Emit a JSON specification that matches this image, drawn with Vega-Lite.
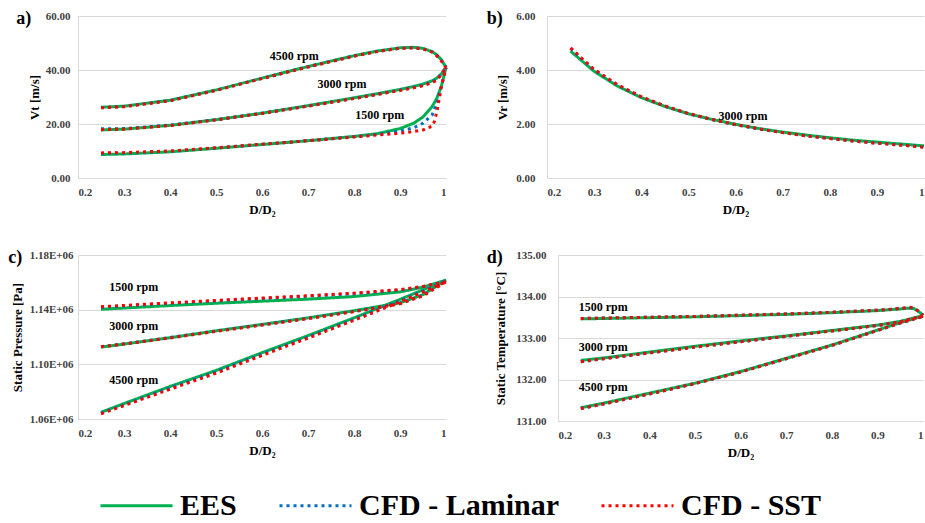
{
"$schema":"https://vega.github.io/schema/vega-lite/v6.json",
"background":"white",
"padding":{"left":8,"top":10,"right":0,"bottom":0},
"config":{
 "font":"Liberation Serif",
 "view":{"stroke":null},
 "axis":{"labelFont":"Liberation Serif","labelFontWeight":"bold","labelFontSize":11,"labelColor":"#404040","labelOverlap":false,"titleFont":"Liberation Serif","titleFontSize":13,"titleFontWeight":"bold","titleColor":"#000000","gridColor":"#d9d9d9","domainColor":"#d9d9d9","ticks":false},
 "axisX":{"grid":false,"labelPadding":8,"titlePadding":6,"format":"~g"},
 "title":{"font":"Liberation Serif","fontSize":18,"fontWeight":"bold","color":"#000000","anchor":"start","frame":"bounds","baseline":"top","offset":-18},
 "text":{"font":"Liberation Serif","fontWeight":"bold","fontSize":12,"color":"#000000"},
 "line":{"strokeCap":"butt","strokeWidth":3}
},
"datasets":{
"labels":[
{"p":"a","x":0.67,"y":45.2,"t":"4500 rpm"},{"p":"a","x":0.774,"y":34.9,"t":"3000 rpm"},{"p":"a","x":0.856,"y":23.3,"t":"1500 rpm"},
{"p":"b","x":0.616,"y":2.29,"t":"3000 rpm"},
{"p":"c","x":0.321,"y":1156300,"t":"1500 rpm"},{"p":"c","x":0.321,"y":1128100,"t":"3000 rpm"},{"p":"c","x":0.321,"y":1088200,"t":"4500 rpm"},
{"p":"d","x":0.299,"y":133.74,"t":"1500 rpm"},{"p":"d","x":0.299,"y":132.78,"t":"3000 rpm"},{"p":"d","x":0.299,"y":131.81,"t":"4500 rpm"}
],
"main":[
{"p":"a","r":"4500","s":"EES","x":0.25,"y":26.2},{"p":"a","r":"4500","s":"EES","x":0.3,"y":26.6},{"p":"a","r":"4500","s":"EES","x":0.4,"y":28.8},{"p":"a","r":"4500","s":"EES","x":0.5,"y":32.6},{"p":"a","r":"4500","s":"EES","x":0.6,"y":37.0},{"p":"a","r":"4500","s":"EES","x":0.7,"y":41.3},{"p":"a","r":"4500","s":"EES","x":0.8,"y":45.3},{"p":"a","r":"4500","s":"EES","x":0.85,"y":47.0},{"p":"a","r":"4500","s":"EES","x":0.9,"y":48.2},{"p":"a","r":"4500","s":"EES","x":0.93,"y":48.4},{"p":"a","r":"4500","s":"EES","x":0.95,"y":48.0},{"p":"a","r":"4500","s":"EES","x":0.97,"y":46.8},{"p":"a","r":"4500","s":"EES","x":0.98,"y":45.6},{"p":"a","r":"4500","s":"EES","x":0.99,"y":43.8},{"p":"a","r":"4500","s":"EES","x":1.0,"y":41.0},
{"p":"a","r":"3000","s":"EES","x":0.25,"y":17.8},{"p":"a","r":"3000","s":"EES","x":0.3,"y":18.1},{"p":"a","r":"3000","s":"EES","x":0.4,"y":19.5},{"p":"a","r":"3000","s":"EES","x":0.5,"y":21.6},{"p":"a","r":"3000","s":"EES","x":0.6,"y":24.0},{"p":"a","r":"3000","s":"EES","x":0.7,"y":26.8},{"p":"a","r":"3000","s":"EES","x":0.8,"y":29.7},{"p":"a","r":"3000","s":"EES","x":0.85,"y":31.2},{"p":"a","r":"3000","s":"EES","x":0.9,"y":32.8},{"p":"a","r":"3000","s":"EES","x":0.93,"y":33.9},{"p":"a","r":"3000","s":"EES","x":0.95,"y":34.8},{"p":"a","r":"3000","s":"EES","x":0.97,"y":36.0},{"p":"a","r":"3000","s":"EES","x":0.98,"y":37.0},{"p":"a","r":"3000","s":"EES","x":0.99,"y":38.6},{"p":"a","r":"3000","s":"EES","x":1.0,"y":41.0},
{"p":"a","r":"1500","s":"EES","x":0.25,"y":8.7},{"p":"a","r":"1500","s":"EES","x":0.3,"y":8.9},{"p":"a","r":"1500","s":"EES","x":0.4,"y":9.7},{"p":"a","r":"1500","s":"EES","x":0.5,"y":11.0},{"p":"a","r":"1500","s":"EES","x":0.6,"y":12.4},{"p":"a","r":"1500","s":"EES","x":0.7,"y":13.8},{"p":"a","r":"1500","s":"EES","x":0.8,"y":15.4},{"p":"a","r":"1500","s":"EES","x":0.85,"y":16.4},{"p":"a","r":"1500","s":"EES","x":0.9,"y":18.3},{"p":"a","r":"1500","s":"EES","x":0.93,"y":20.3},{"p":"a","r":"1500","s":"EES","x":0.95,"y":22.6},{"p":"a","r":"1500","s":"EES","x":0.97,"y":26.5},{"p":"a","r":"1500","s":"EES","x":0.98,"y":29.5},{"p":"a","r":"1500","s":"EES","x":0.99,"y":34.0},{"p":"a","r":"1500","s":"EES","x":1.0,"y":41.0},
{"p":"a","r":"4500","s":"CFD - Laminar","x":0.25,"y":26.1},{"p":"a","r":"4500","s":"CFD - Laminar","x":0.3,"y":26.5},{"p":"a","r":"4500","s":"CFD - Laminar","x":0.4,"y":28.7},{"p":"a","r":"4500","s":"CFD - Laminar","x":0.5,"y":32.5},{"p":"a","r":"4500","s":"CFD - Laminar","x":0.6,"y":36.9},{"p":"a","r":"4500","s":"CFD - Laminar","x":0.7,"y":41.2},{"p":"a","r":"4500","s":"CFD - Laminar","x":0.8,"y":45.2},{"p":"a","r":"4500","s":"CFD - Laminar","x":0.85,"y":46.9},{"p":"a","r":"4500","s":"CFD - Laminar","x":0.9,"y":48.1},{"p":"a","r":"4500","s":"CFD - Laminar","x":0.93,"y":48.3},{"p":"a","r":"4500","s":"CFD - Laminar","x":0.95,"y":47.9},{"p":"a","r":"4500","s":"CFD - Laminar","x":0.97,"y":46.7},{"p":"a","r":"4500","s":"CFD - Laminar","x":0.98,"y":45.4},{"p":"a","r":"4500","s":"CFD - Laminar","x":0.99,"y":43.5},{"p":"a","r":"4500","s":"CFD - Laminar","x":1.0,"y":41.0},
{"p":"a","r":"3000","s":"CFD - Laminar","x":0.25,"y":18.2},{"p":"a","r":"3000","s":"CFD - Laminar","x":0.3,"y":18.3},{"p":"a","r":"3000","s":"CFD - Laminar","x":0.4,"y":19.6},{"p":"a","r":"3000","s":"CFD - Laminar","x":0.5,"y":21.6},{"p":"a","r":"3000","s":"CFD - Laminar","x":0.6,"y":24.0},{"p":"a","r":"3000","s":"CFD - Laminar","x":0.7,"y":26.7},{"p":"a","r":"3000","s":"CFD - Laminar","x":0.8,"y":29.5},{"p":"a","r":"3000","s":"CFD - Laminar","x":0.85,"y":31.0},{"p":"a","r":"3000","s":"CFD - Laminar","x":0.9,"y":32.6},{"p":"a","r":"3000","s":"CFD - Laminar","x":0.93,"y":33.6},{"p":"a","r":"3000","s":"CFD - Laminar","x":0.95,"y":34.4},{"p":"a","r":"3000","s":"CFD - Laminar","x":0.97,"y":35.6},{"p":"a","r":"3000","s":"CFD - Laminar","x":0.98,"y":36.6},{"p":"a","r":"3000","s":"CFD - Laminar","x":0.99,"y":38.5},{"p":"a","r":"3000","s":"CFD - Laminar","x":1.0,"y":41.0},
{"p":"a","r":"1500","s":"CFD - Laminar","x":0.25,"y":9.1},{"p":"a","r":"1500","s":"CFD - Laminar","x":0.3,"y":9.2},{"p":"a","r":"1500","s":"CFD - Laminar","x":0.4,"y":9.9},{"p":"a","r":"1500","s":"CFD - Laminar","x":0.5,"y":11.1},{"p":"a","r":"1500","s":"CFD - Laminar","x":0.6,"y":12.5},{"p":"a","r":"1500","s":"CFD - Laminar","x":0.7,"y":13.8},{"p":"a","r":"1500","s":"CFD - Laminar","x":0.8,"y":15.3},{"p":"a","r":"1500","s":"CFD - Laminar","x":0.85,"y":16.1},{"p":"a","r":"1500","s":"CFD - Laminar","x":0.9,"y":17.4},{"p":"a","r":"1500","s":"CFD - Laminar","x":0.93,"y":18.6},{"p":"a","r":"1500","s":"CFD - Laminar","x":0.95,"y":20.3},{"p":"a","r":"1500","s":"CFD - Laminar","x":0.97,"y":23.4},{"p":"a","r":"1500","s":"CFD - Laminar","x":0.975,"y":25.5},{"p":"a","r":"1500","s":"CFD - Laminar","x":0.98,"y":28.0},{"p":"a","r":"1500","s":"CFD - Laminar","x":0.99,"y":34.0},{"p":"a","r":"1500","s":"CFD - Laminar","x":1.0,"y":41.0},
{"p":"a","r":"4500","s":"CFD - SST","x":0.25,"y":26.0},{"p":"a","r":"4500","s":"CFD - SST","x":0.3,"y":26.4},{"p":"a","r":"4500","s":"CFD - SST","x":0.4,"y":28.6},{"p":"a","r":"4500","s":"CFD - SST","x":0.5,"y":32.4},{"p":"a","r":"4500","s":"CFD - SST","x":0.6,"y":36.8},{"p":"a","r":"4500","s":"CFD - SST","x":0.7,"y":41.1},{"p":"a","r":"4500","s":"CFD - SST","x":0.8,"y":45.1},{"p":"a","r":"4500","s":"CFD - SST","x":0.85,"y":46.8},{"p":"a","r":"4500","s":"CFD - SST","x":0.9,"y":48.0},{"p":"a","r":"4500","s":"CFD - SST","x":0.93,"y":48.2},{"p":"a","r":"4500","s":"CFD - SST","x":0.95,"y":47.8},{"p":"a","r":"4500","s":"CFD - SST","x":0.97,"y":46.6},{"p":"a","r":"4500","s":"CFD - SST","x":0.98,"y":45.3},{"p":"a","r":"4500","s":"CFD - SST","x":0.99,"y":43.3},{"p":"a","r":"4500","s":"CFD - SST","x":1.0,"y":40.8},
{"p":"a","r":"3000","s":"CFD - SST","x":0.25,"y":17.9},{"p":"a","r":"3000","s":"CFD - SST","x":0.3,"y":18.1},{"p":"a","r":"3000","s":"CFD - SST","x":0.4,"y":19.4},{"p":"a","r":"3000","s":"CFD - SST","x":0.5,"y":21.5},{"p":"a","r":"3000","s":"CFD - SST","x":0.6,"y":23.9},{"p":"a","r":"3000","s":"CFD - SST","x":0.7,"y":26.6},{"p":"a","r":"3000","s":"CFD - SST","x":0.8,"y":29.4},{"p":"a","r":"3000","s":"CFD - SST","x":0.85,"y":30.9},{"p":"a","r":"3000","s":"CFD - SST","x":0.9,"y":32.4},{"p":"a","r":"3000","s":"CFD - SST","x":0.93,"y":33.4},{"p":"a","r":"3000","s":"CFD - SST","x":0.95,"y":34.2},{"p":"a","r":"3000","s":"CFD - SST","x":0.97,"y":35.3},{"p":"a","r":"3000","s":"CFD - SST","x":0.98,"y":36.3},{"p":"a","r":"3000","s":"CFD - SST","x":0.99,"y":38.3},{"p":"a","r":"3000","s":"CFD - SST","x":1.0,"y":40.8},
{"p":"a","r":"1500","s":"CFD - SST","x":0.25,"y":9.3},{"p":"a","r":"1500","s":"CFD - SST","x":0.3,"y":9.4},{"p":"a","r":"1500","s":"CFD - SST","x":0.4,"y":10.0},{"p":"a","r":"1500","s":"CFD - SST","x":0.5,"y":11.2},{"p":"a","r":"1500","s":"CFD - SST","x":0.6,"y":12.5},{"p":"a","r":"1500","s":"CFD - SST","x":0.7,"y":13.8},{"p":"a","r":"1500","s":"CFD - SST","x":0.8,"y":15.2},{"p":"a","r":"1500","s":"CFD - SST","x":0.85,"y":15.9},{"p":"a","r":"1500","s":"CFD - SST","x":0.9,"y":16.6},{"p":"a","r":"1500","s":"CFD - SST","x":0.93,"y":17.2},{"p":"a","r":"1500","s":"CFD - SST","x":0.95,"y":17.8},{"p":"a","r":"1500","s":"CFD - SST","x":0.97,"y":19.2},{"p":"a","r":"1500","s":"CFD - SST","x":0.975,"y":21.0},{"p":"a","r":"1500","s":"CFD - SST","x":0.98,"y":24.5},{"p":"a","r":"1500","s":"CFD - SST","x":0.985,"y":29.0},{"p":"a","r":"1500","s":"CFD - SST","x":0.99,"y":34.0},{"p":"a","r":"1500","s":"CFD - SST","x":1.0,"y":40.8},

{"p":"b","r":"3000","s":"EES","x":0.25,"y":4.70},{"p":"b","r":"3000","s":"EES","x":0.28,"y":4.25},{"p":"b","r":"3000","s":"EES","x":0.3,"y":3.95},{"p":"b","r":"3000","s":"EES","x":0.35,"y":3.40},{"p":"b","r":"3000","s":"EES","x":0.4,"y":2.98},{"p":"b","r":"3000","s":"EES","x":0.45,"y":2.65},{"p":"b","r":"3000","s":"EES","x":0.5,"y":2.38},{"p":"b","r":"3000","s":"EES","x":0.55,"y":2.17},{"p":"b","r":"3000","s":"EES","x":0.6,"y":1.99},{"p":"b","r":"3000","s":"EES","x":0.65,"y":1.83},{"p":"b","r":"3000","s":"EES","x":0.7,"y":1.70},{"p":"b","r":"3000","s":"EES","x":0.75,"y":1.59},{"p":"b","r":"3000","s":"EES","x":0.8,"y":1.49},{"p":"b","r":"3000","s":"EES","x":0.85,"y":1.40},{"p":"b","r":"3000","s":"EES","x":0.9,"y":1.33},{"p":"b","r":"3000","s":"EES","x":0.95,"y":1.26},{"p":"b","r":"3000","s":"EES","x":1.0,"y":1.19},
{"p":"b","r":"3000","s":"CFD - Laminar","x":0.25,"y":4.80},{"p":"b","r":"3000","s":"CFD - Laminar","x":0.28,"y":4.31},{"p":"b","r":"3000","s":"CFD - Laminar","x":0.3,"y":4.01},{"p":"b","r":"3000","s":"CFD - Laminar","x":0.35,"y":3.44},{"p":"b","r":"3000","s":"CFD - Laminar","x":0.4,"y":3.00},{"p":"b","r":"3000","s":"CFD - Laminar","x":0.45,"y":2.66},{"p":"b","r":"3000","s":"CFD - Laminar","x":0.5,"y":2.38},{"p":"b","r":"3000","s":"CFD - Laminar","x":0.55,"y":2.16},{"p":"b","r":"3000","s":"CFD - Laminar","x":0.6,"y":1.97},{"p":"b","r":"3000","s":"CFD - Laminar","x":0.65,"y":1.81},{"p":"b","r":"3000","s":"CFD - Laminar","x":0.7,"y":1.68},{"p":"b","r":"3000","s":"CFD - Laminar","x":0.75,"y":1.56},{"p":"b","r":"3000","s":"CFD - Laminar","x":0.8,"y":1.46},{"p":"b","r":"3000","s":"CFD - Laminar","x":0.85,"y":1.37},{"p":"b","r":"3000","s":"CFD - Laminar","x":0.9,"y":1.29},{"p":"b","r":"3000","s":"CFD - Laminar","x":0.95,"y":1.22},{"p":"b","r":"3000","s":"CFD - Laminar","x":1.0,"y":1.15},
{"p":"b","r":"3000","s":"CFD - SST","x":0.25,"y":4.82},{"p":"b","r":"3000","s":"CFD - SST","x":0.28,"y":4.33},{"p":"b","r":"3000","s":"CFD - SST","x":0.3,"y":4.02},{"p":"b","r":"3000","s":"CFD - SST","x":0.35,"y":3.45},{"p":"b","r":"3000","s":"CFD - SST","x":0.4,"y":3.01},{"p":"b","r":"3000","s":"CFD - SST","x":0.45,"y":2.67},{"p":"b","r":"3000","s":"CFD - SST","x":0.5,"y":2.39},{"p":"b","r":"3000","s":"CFD - SST","x":0.55,"y":2.17},{"p":"b","r":"3000","s":"CFD - SST","x":0.6,"y":1.98},{"p":"b","r":"3000","s":"CFD - SST","x":0.65,"y":1.82},{"p":"b","r":"3000","s":"CFD - SST","x":0.7,"y":1.68},{"p":"b","r":"3000","s":"CFD - SST","x":0.75,"y":1.56},{"p":"b","r":"3000","s":"CFD - SST","x":0.8,"y":1.46},{"p":"b","r":"3000","s":"CFD - SST","x":0.85,"y":1.37},{"p":"b","r":"3000","s":"CFD - SST","x":0.9,"y":1.29},{"p":"b","r":"3000","s":"CFD - SST","x":0.95,"y":1.22},{"p":"b","r":"3000","s":"CFD - SST","x":1.0,"y":1.14},

{"p":"c","r":"1500","s":"EES","x":0.25,"y":1140300},{"p":"c","r":"1500","s":"EES","x":0.3,"y":1141200},{"p":"c","r":"1500","s":"EES","x":0.4,"y":1143000},{"p":"c","r":"1500","s":"EES","x":0.5,"y":1144700},{"p":"c","r":"1500","s":"EES","x":0.6,"y":1146200},{"p":"c","r":"1500","s":"EES","x":0.7,"y":1147700},{"p":"c","r":"1500","s":"EES","x":0.8,"y":1149600},{"p":"c","r":"1500","s":"EES","x":0.9,"y":1153000},{"p":"c","r":"1500","s":"EES","x":0.95,"y":1156500},{"p":"c","r":"1500","s":"EES","x":1.0,"y":1161500},
{"p":"c","r":"3000","s":"EES","x":0.25,"y":1112600},{"p":"c","r":"3000","s":"EES","x":0.3,"y":1114800},{"p":"c","r":"3000","s":"EES","x":0.4,"y":1119500},{"p":"c","r":"3000","s":"EES","x":0.5,"y":1124500},{"p":"c","r":"3000","s":"EES","x":0.6,"y":1129200},{"p":"c","r":"3000","s":"EES","x":0.7,"y":1134000},{"p":"c","r":"3000","s":"EES","x":0.8,"y":1139200},{"p":"c","r":"3000","s":"EES","x":0.9,"y":1145000},{"p":"c","r":"3000","s":"EES","x":0.95,"y":1151000},{"p":"c","r":"3000","s":"EES","x":1.0,"y":1161700},
{"p":"c","r":"4500","s":"EES","x":0.25,"y":1064900},{"p":"c","r":"4500","s":"EES","x":0.3,"y":1071300},{"p":"c","r":"4500","s":"EES","x":0.4,"y":1083800},{"p":"c","r":"4500","s":"EES","x":0.5,"y":1095500},{"p":"c","r":"4500","s":"EES","x":0.6,"y":1108500},{"p":"c","r":"4500","s":"EES","x":0.7,"y":1121000},{"p":"c","r":"4500","s":"EES","x":0.8,"y":1134000},{"p":"c","r":"4500","s":"EES","x":0.9,"y":1147500},{"p":"c","r":"4500","s":"EES","x":0.95,"y":1154500},{"p":"c","r":"4500","s":"EES","x":1.0,"y":1161700},
{"p":"c","r":"1500","s":"CFD - Laminar","x":0.25,"y":1141800},{"p":"c","r":"1500","s":"CFD - Laminar","x":0.3,"y":1142700},{"p":"c","r":"1500","s":"CFD - Laminar","x":0.4,"y":1144600},{"p":"c","r":"1500","s":"CFD - Laminar","x":0.5,"y":1146400},{"p":"c","r":"1500","s":"CFD - Laminar","x":0.6,"y":1148100},{"p":"c","r":"1500","s":"CFD - Laminar","x":0.7,"y":1149800},{"p":"c","r":"1500","s":"CFD - Laminar","x":0.8,"y":1151700},{"p":"c","r":"1500","s":"CFD - Laminar","x":0.9,"y":1154300},{"p":"c","r":"1500","s":"CFD - Laminar","x":0.95,"y":1156800},{"p":"c","r":"1500","s":"CFD - Laminar","x":1.0,"y":1160800},
{"p":"c","r":"3000","s":"CFD - Laminar","x":0.25,"y":1113000},{"p":"c","r":"3000","s":"CFD - Laminar","x":0.3,"y":1115000},{"p":"c","r":"3000","s":"CFD - Laminar","x":0.4,"y":1119600},{"p":"c","r":"3000","s":"CFD - Laminar","x":0.5,"y":1124400},{"p":"c","r":"3000","s":"CFD - Laminar","x":0.6,"y":1129000},{"p":"c","r":"3000","s":"CFD - Laminar","x":0.7,"y":1133700},{"p":"c","r":"3000","s":"CFD - Laminar","x":0.8,"y":1138800},{"p":"c","r":"3000","s":"CFD - Laminar","x":0.9,"y":1144600},{"p":"c","r":"3000","s":"CFD - Laminar","x":0.95,"y":1150500},{"p":"c","r":"3000","s":"CFD - Laminar","x":1.0,"y":1160800},
{"p":"c","r":"4500","s":"CFD - Laminar","x":0.25,"y":1064300},{"p":"c","r":"4500","s":"CFD - Laminar","x":0.3,"y":1070400},{"p":"c","r":"4500","s":"CFD - Laminar","x":0.4,"y":1082800},{"p":"c","r":"4500","s":"CFD - Laminar","x":0.5,"y":1094500},{"p":"c","r":"4500","s":"CFD - Laminar","x":0.6,"y":1107500},{"p":"c","r":"4500","s":"CFD - Laminar","x":0.7,"y":1120000},{"p":"c","r":"4500","s":"CFD - Laminar","x":0.8,"y":1133000},{"p":"c","r":"4500","s":"CFD - Laminar","x":0.9,"y":1146600},{"p":"c","r":"4500","s":"CFD - Laminar","x":0.95,"y":1153700},{"p":"c","r":"4500","s":"CFD - Laminar","x":1.0,"y":1161000},
{"p":"c","r":"1500","s":"CFD - SST","x":0.25,"y":1142200},{"p":"c","r":"1500","s":"CFD - SST","x":0.3,"y":1143100},{"p":"c","r":"1500","s":"CFD - SST","x":0.4,"y":1145000},{"p":"c","r":"1500","s":"CFD - SST","x":0.5,"y":1146800},{"p":"c","r":"1500","s":"CFD - SST","x":0.6,"y":1148500},{"p":"c","r":"1500","s":"CFD - SST","x":0.7,"y":1150200},{"p":"c","r":"1500","s":"CFD - SST","x":0.8,"y":1152100},{"p":"c","r":"1500","s":"CFD - SST","x":0.9,"y":1154700},{"p":"c","r":"1500","s":"CFD - SST","x":0.95,"y":1157000},{"p":"c","r":"1500","s":"CFD - SST","x":1.0,"y":1160500},
{"p":"c","r":"3000","s":"CFD - SST","x":0.25,"y":1112800},{"p":"c","r":"3000","s":"CFD - SST","x":0.3,"y":1114800},{"p":"c","r":"3000","s":"CFD - SST","x":0.4,"y":1119300},{"p":"c","r":"3000","s":"CFD - SST","x":0.5,"y":1124100},{"p":"c","r":"3000","s":"CFD - SST","x":0.6,"y":1128700},{"p":"c","r":"3000","s":"CFD - SST","x":0.7,"y":1133400},{"p":"c","r":"3000","s":"CFD - SST","x":0.8,"y":1138500},{"p":"c","r":"3000","s":"CFD - SST","x":0.9,"y":1144300},{"p":"c","r":"3000","s":"CFD - SST","x":0.95,"y":1150200},{"p":"c","r":"3000","s":"CFD - SST","x":1.0,"y":1160400},
{"p":"c","r":"4500","s":"CFD - SST","x":0.25,"y":1063800},{"p":"c","r":"4500","s":"CFD - SST","x":0.3,"y":1069800},{"p":"c","r":"4500","s":"CFD - SST","x":0.4,"y":1081800},{"p":"c","r":"4500","s":"CFD - SST","x":0.5,"y":1093500},{"p":"c","r":"4500","s":"CFD - SST","x":0.6,"y":1106500},{"p":"c","r":"4500","s":"CFD - SST","x":0.7,"y":1119200},{"p":"c","r":"4500","s":"CFD - SST","x":0.8,"y":1132200},{"p":"c","r":"4500","s":"CFD - SST","x":0.9,"y":1145800},{"p":"c","r":"4500","s":"CFD - SST","x":0.95,"y":1153000},{"p":"c","r":"4500","s":"CFD - SST","x":1.0,"y":1160300},

{"p":"d","r":"1500","s":"EES","x":0.25,"y":133.46},{"p":"d","r":"1500","s":"EES","x":0.3,"y":133.47},{"p":"d","r":"1500","s":"EES","x":0.4,"y":133.49},{"p":"d","r":"1500","s":"EES","x":0.5,"y":133.51},{"p":"d","r":"1500","s":"EES","x":0.6,"y":133.54},{"p":"d","r":"1500","s":"EES","x":0.7,"y":133.57},{"p":"d","r":"1500","s":"EES","x":0.8,"y":133.61},{"p":"d","r":"1500","s":"EES","x":0.9,"y":133.66},{"p":"d","r":"1500","s":"EES","x":0.95,"y":133.70},{"p":"d","r":"1500","s":"EES","x":0.97,"y":133.72},{"p":"d","r":"1500","s":"EES","x":0.98,"y":133.71},{"p":"d","r":"1500","s":"EES","x":0.99,"y":133.64},{"p":"d","r":"1500","s":"EES","x":1.0,"y":133.55},
{"p":"d","r":"3000","s":"EES","x":0.25,"y":132.46},{"p":"d","r":"3000","s":"EES","x":0.3,"y":132.52},{"p":"d","r":"3000","s":"EES","x":0.4,"y":132.66},{"p":"d","r":"3000","s":"EES","x":0.5,"y":132.80},{"p":"d","r":"3000","s":"EES","x":0.6,"y":132.93},{"p":"d","r":"3000","s":"EES","x":0.7,"y":133.05},{"p":"d","r":"3000","s":"EES","x":0.8,"y":133.18},{"p":"d","r":"3000","s":"EES","x":0.9,"y":133.31},{"p":"d","r":"3000","s":"EES","x":0.95,"y":133.40},{"p":"d","r":"3000","s":"EES","x":1.0,"y":133.54},
{"p":"d","r":"4500","s":"EES","x":0.25,"y":131.32},{"p":"d","r":"4500","s":"EES","x":0.3,"y":131.43},{"p":"d","r":"4500","s":"EES","x":0.4,"y":131.67},{"p":"d","r":"4500","s":"EES","x":0.5,"y":131.91},{"p":"d","r":"4500","s":"EES","x":0.6,"y":132.19},{"p":"d","r":"4500","s":"EES","x":0.7,"y":132.51},{"p":"d","r":"4500","s":"EES","x":0.8,"y":132.83},{"p":"d","r":"4500","s":"EES","x":0.9,"y":133.19},{"p":"d","r":"4500","s":"EES","x":0.95,"y":133.37},{"p":"d","r":"4500","s":"EES","x":1.0,"y":133.53},
{"p":"d","r":"1500","s":"CFD - Laminar","x":0.25,"y":133.47},{"p":"d","r":"1500","s":"CFD - Laminar","x":0.3,"y":133.48},{"p":"d","r":"1500","s":"CFD - Laminar","x":0.4,"y":133.50},{"p":"d","r":"1500","s":"CFD - Laminar","x":0.5,"y":133.52},{"p":"d","r":"1500","s":"CFD - Laminar","x":0.6,"y":133.55},{"p":"d","r":"1500","s":"CFD - Laminar","x":0.7,"y":133.58},{"p":"d","r":"1500","s":"CFD - Laminar","x":0.8,"y":133.62},{"p":"d","r":"1500","s":"CFD - Laminar","x":0.9,"y":133.67},{"p":"d","r":"1500","s":"CFD - Laminar","x":0.95,"y":133.71},{"p":"d","r":"1500","s":"CFD - Laminar","x":0.97,"y":133.73},{"p":"d","r":"1500","s":"CFD - Laminar","x":0.98,"y":133.72},{"p":"d","r":"1500","s":"CFD - Laminar","x":0.99,"y":133.65},{"p":"d","r":"1500","s":"CFD - Laminar","x":1.0,"y":133.55},
{"p":"d","r":"3000","s":"CFD - Laminar","x":0.25,"y":132.43},{"p":"d","r":"3000","s":"CFD - Laminar","x":0.3,"y":132.50},{"p":"d","r":"3000","s":"CFD - Laminar","x":0.4,"y":132.64},{"p":"d","r":"3000","s":"CFD - Laminar","x":0.5,"y":132.78},{"p":"d","r":"3000","s":"CFD - Laminar","x":0.6,"y":132.91},{"p":"d","r":"3000","s":"CFD - Laminar","x":0.7,"y":133.04},{"p":"d","r":"3000","s":"CFD - Laminar","x":0.8,"y":133.17},{"p":"d","r":"3000","s":"CFD - Laminar","x":0.9,"y":133.30},{"p":"d","r":"3000","s":"CFD - Laminar","x":0.95,"y":133.39},{"p":"d","r":"3000","s":"CFD - Laminar","x":1.0,"y":133.53},
{"p":"d","r":"4500","s":"CFD - Laminar","x":0.25,"y":131.30},{"p":"d","r":"4500","s":"CFD - Laminar","x":0.3,"y":131.41},{"p":"d","r":"4500","s":"CFD - Laminar","x":0.4,"y":131.65},{"p":"d","r":"4500","s":"CFD - Laminar","x":0.5,"y":131.90},{"p":"d","r":"4500","s":"CFD - Laminar","x":0.6,"y":132.18},{"p":"d","r":"4500","s":"CFD - Laminar","x":0.7,"y":132.50},{"p":"d","r":"4500","s":"CFD - Laminar","x":0.8,"y":132.82},{"p":"d","r":"4500","s":"CFD - Laminar","x":0.9,"y":133.18},{"p":"d","r":"4500","s":"CFD - Laminar","x":0.95,"y":133.36},{"p":"d","r":"4500","s":"CFD - Laminar","x":1.0,"y":133.52},
{"p":"d","r":"1500","s":"CFD - SST","x":0.25,"y":133.47},{"p":"d","r":"1500","s":"CFD - SST","x":0.3,"y":133.48},{"p":"d","r":"1500","s":"CFD - SST","x":0.4,"y":133.50},{"p":"d","r":"1500","s":"CFD - SST","x":0.5,"y":133.52},{"p":"d","r":"1500","s":"CFD - SST","x":0.6,"y":133.55},{"p":"d","r":"1500","s":"CFD - SST","x":0.7,"y":133.58},{"p":"d","r":"1500","s":"CFD - SST","x":0.8,"y":133.62},{"p":"d","r":"1500","s":"CFD - SST","x":0.9,"y":133.67},{"p":"d","r":"1500","s":"CFD - SST","x":0.95,"y":133.71},{"p":"d","r":"1500","s":"CFD - SST","x":0.97,"y":133.74},{"p":"d","r":"1500","s":"CFD - SST","x":0.98,"y":133.72},{"p":"d","r":"1500","s":"CFD - SST","x":0.99,"y":133.64},{"p":"d","r":"1500","s":"CFD - SST","x":1.0,"y":133.54},
{"p":"d","r":"3000","s":"CFD - SST","x":0.25,"y":132.43},{"p":"d","r":"3000","s":"CFD - SST","x":0.3,"y":132.50},{"p":"d","r":"3000","s":"CFD - SST","x":0.4,"y":132.64},{"p":"d","r":"3000","s":"CFD - SST","x":0.5,"y":132.78},{"p":"d","r":"3000","s":"CFD - SST","x":0.6,"y":132.91},{"p":"d","r":"3000","s":"CFD - SST","x":0.7,"y":133.04},{"p":"d","r":"3000","s":"CFD - SST","x":0.8,"y":133.17},{"p":"d","r":"3000","s":"CFD - SST","x":0.9,"y":133.30},{"p":"d","r":"3000","s":"CFD - SST","x":0.95,"y":133.39},{"p":"d","r":"3000","s":"CFD - SST","x":1.0,"y":133.53},
{"p":"d","r":"4500","s":"CFD - SST","x":0.25,"y":131.30},{"p":"d","r":"4500","s":"CFD - SST","x":0.3,"y":131.41},{"p":"d","r":"4500","s":"CFD - SST","x":0.4,"y":131.65},{"p":"d","r":"4500","s":"CFD - SST","x":0.5,"y":131.90},{"p":"d","r":"4500","s":"CFD - SST","x":0.6,"y":132.18},{"p":"d","r":"4500","s":"CFD - SST","x":0.7,"y":132.50},{"p":"d","r":"4500","s":"CFD - SST","x":0.8,"y":132.82},{"p":"d","r":"4500","s":"CFD - SST","x":0.9,"y":133.18},{"p":"d","r":"4500","s":"CFD - SST","x":0.95,"y":133.36},{"p":"d","r":"4500","s":"CFD - SST","x":1.0,"y":133.52}
]
},
"columns":2,
"align":"none",
"spacing":{"row":33,"column":34},
"concat":[
 {"width":368,"height":162,"title":{"text":"a)","dx":-12},
  "layer":[
   {"data":{"name":"main"},"transform":[{"filter":"datum.p=='a'"}],"mark":{"type":"line"},
    "encoding":{
     "x":{"field":"x","type":"quantitative","scale":{"domain":[0.2,1],"nice":false,"zero":false},"axis":{"title":"D/D₂","values":[0.2,0.3,0.4,0.5,0.6,0.7,0.8,0.9,1]}},
     "y":{"field":"y","type":"quantitative","scale":{"domain":[0,60],"nice":false},"axis":{"title":"Vt [m/s]","values":[0,10,20,30,40,50,60],"format":".2f","labelPadding":8,"titlePadding":4}},
     "color":{"field":"s","type":"nominal","scale":{"domain":["EES","CFD - Laminar","CFD - SST"],"range":["#00b050","#0070c0","#ff0000"]},
       "legend":{"orient":"none","legendX":21,"legendY":452,"direction":"horizontal","title":null,"labelFont":"Liberation Serif","labelFontSize":30,"labelFontWeight":"bold","labelColor":"#000000","labelLimit":0,"symbolType":"stroke","symbolSize":5184,"symbolStrokeWidth":5,"columnPadding":36,"labelOffset":6}},
     "strokeDash":{"field":"s","type":"nominal","scale":{"domain":["EES","CFD - Laminar","CFD - SST"],"range":[[1,0],[3,4],[3,4]]},
       "legend":{"orient":"none","legendX":21,"legendY":452,"direction":"horizontal","title":null,"labelFont":"Liberation Serif","labelFontSize":30,"labelFontWeight":"bold","labelColor":"#000000","labelLimit":0,"symbolType":"stroke","symbolSize":5184,"symbolStrokeWidth":5,"columnPadding":36,"labelOffset":6}},
     "detail":{"field":"r"}
    }},
   {"data":{"name":"labels"},"transform":[{"filter":"datum.p=='a'"}],"mark":{"type":"text"},
    "encoding":{"x":{"field":"x","type":"quantitative"},"y":{"field":"y","type":"quantitative"},"text":{"field":"t"}}}
  ]},
 {"width":377,"height":162,"title":{"text":"b)","dx":-10},
  "layer":[
   {"data":{"name":"main"},"transform":[{"filter":"datum.p=='b'"}],"mark":{"type":"line"},
    "encoding":{
     "x":{"field":"x","type":"quantitative","scale":{"domain":[0.2,1],"nice":false,"zero":false},"axis":{"title":"D/D₂","values":[0.2,0.3,0.4,0.5,0.6,0.7,0.8,0.9,1]}},
     "y":{"field":"y","type":"quantitative","scale":{"domain":[0,6],"nice":false},"axis":{"title":"Vr [m/s]","values":[0,1,2,3,4,5,6],"format":".2f","labelPadding":12,"titlePadding":6}},
     "color":{"field":"s","type":"nominal"},
     "strokeDash":{"field":"s","type":"nominal"},
     "detail":{"field":"r"}
    }},
   {"data":{"name":"labels"},"transform":[{"filter":"datum.p=='b'"}],"mark":{"type":"text"},
    "encoding":{"x":{"field":"x","type":"quantitative"},"y":{"field":"y","type":"quantitative"},"text":{"field":"t"}}}
  ]},
 {"width":368,"height":164,"title":{"text":"c)","dx":-3},
  "layer":[
   {"data":{"name":"main"},"transform":[{"filter":"datum.p=='c'"}],"mark":{"type":"line"},
    "encoding":{
     "x":{"field":"x","type":"quantitative","scale":{"domain":[0.2,1],"nice":false,"zero":false},"axis":{"title":"D/D₂","values":[0.2,0.3,0.4,0.5,0.6,0.7,0.8,0.9,1]}},
     "y":{"field":"y","type":"quantitative","scale":{"domain":[1060000,1180000],"nice":false,"zero":false},"axis":{"title":"Static Pressure [Pa]","values":[1060000,1080000,1100000,1120000,1140000,1160000,1180000],"labelExpr":"replace(upper(format(datum.value,'.2e')),'E+','E+0')","labelPadding":5,"titlePadding":5}},
     "color":{"field":"s","type":"nominal"},
     "strokeDash":{"field":"s","type":"nominal"},
     "detail":{"field":"r"}
    }},
   {"data":{"name":"labels"},"transform":[{"filter":"datum.p=='c'"}],"mark":{"type":"text"},
    "encoding":{"x":{"field":"x","type":"quantitative"},"y":{"field":"y","type":"quantitative"},"text":{"field":"t"}}}
  ]},
 {"width":365,"height":166,"title":{"text":"d)","dx":-8},
  "layer":[
   {"data":{"name":"main"},"transform":[{"filter":"datum.p=='d'"}],"mark":{"type":"line"},
    "encoding":{
     "x":{"field":"x","type":"quantitative","scale":{"domain":[0.2,1],"nice":false,"zero":false},"axis":{"title":"D/D₂","values":[0.2,0.3,0.4,0.5,0.6,0.7,0.8,0.9,1]}},
     "y":{"field":"y","type":"quantitative","scale":{"domain":[131,135],"nice":false,"zero":false},"axis":{"title":"Static Temperature [°C]","values":[131,131.5,132,132.5,133,133.5,134,134.5,135],"format":".2f","labelPadding":12,"titlePadding":8}},
     "color":{"field":"s","type":"nominal"},
     "strokeDash":{"field":"s","type":"nominal"},
     "detail":{"field":"r"}
    }},
   {"data":{"name":"labels"},"transform":[{"filter":"datum.p=='d'"}],"mark":{"type":"text"},
    "encoding":{"x":{"field":"x","type":"quantitative"},"y":{"field":"y","type":"quantitative"},"text":{"field":"t"}}}
  ]}
]
}
